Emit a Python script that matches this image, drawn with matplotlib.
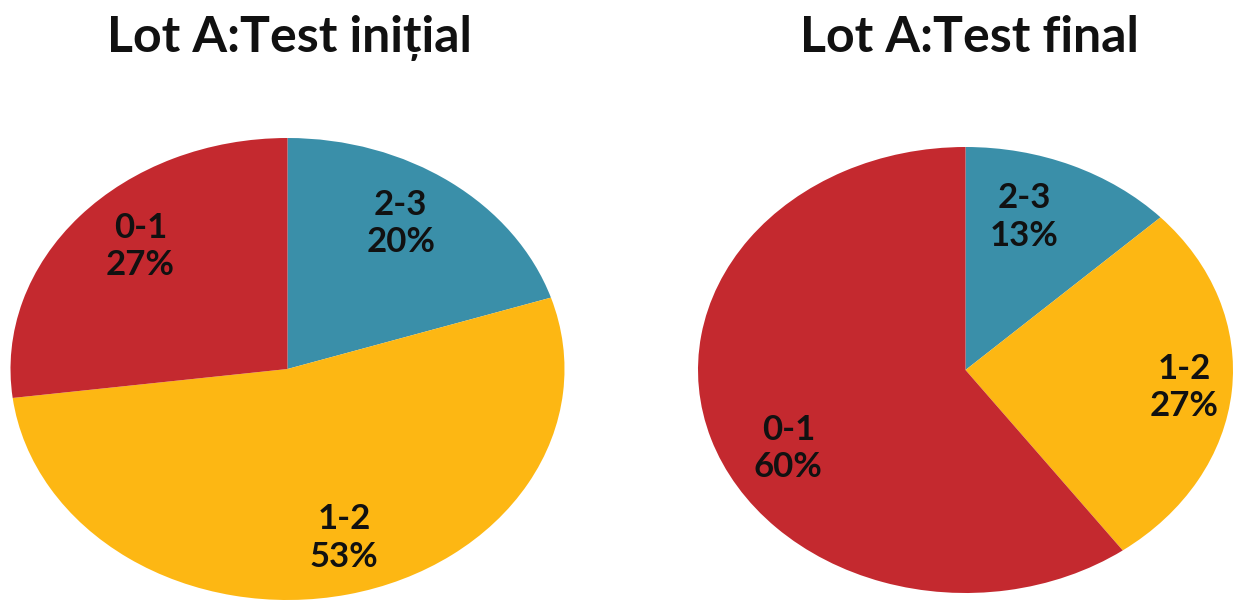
import numpy as np
import matplotlib
matplotlib.use("Agg")
import matplotlib.pyplot as plt

plt.rcParams['font.family'] = ['Lato', 'DejaVu Sans']

# score bands, drawn clockwise from 12 o'clock
categories = ["2-3", "1-2", "0-1"]
initial_pct = [20, 53, 27]
final_pct = [13, 27, 60]
titles = ["Lot A:Test inițial", "Lot A:Test final"]

colors = ["#3a8fa9", "#fdb713", "#c4292f"]

W, H = 1241, 600
fig = plt.figure(figsize=(W / 100, H / 100), dpi=100)

# pie boxes in pixels (left, top, right, bottom); the pies are slightly oval
boxes = [(10.5, 138, 564.5, 600), (698, 147, 1233, 593)]
# per-wedge label radius and angle nudge (deg)
label_r = [[0.75, 0.76, 0.75], [0.72, 0.82, 0.75]]
label_dtheta = [[3, 3, -3.6], [5.7, 0, 10]]


def draw_pie(box, values, r_list, dt_list):
    x0, y0, x1, y1 = box
    ax = fig.add_axes([x0 / W, 1 - y1 / H, (x1 - x0) / W, (y1 - y0) / H])
    wedges, _ = ax.pie(values, colors=colors, startangle=90, counterclock=False,
                       wedgeprops=dict(linewidth=0))
    ax.set_aspect("auto")
    ax.set_xlim(-1, 1)
    ax.set_ylim(-1, 1)
    ax.axis("off")
    for w, cat, v, r, dt in zip(wedges, categories, values, r_list, dt_list):
        mid = np.deg2rad((w.theta1 + w.theta2) / 2 + dt)
        ax.text(r * np.cos(mid), r * np.sin(mid), f"{cat}\n{v}%",
                ha="center", va="center", fontsize=25, fontweight="bold",
                color="#111111", linespacing=1.2)
    return ax


draw_pie(boxes[0], initial_pct, label_r[0], label_dtheta[0])
draw_pie(boxes[1], final_pct, label_r[1], label_dtheta[1])

# titles above each pie
for cx, t in zip([289, 969], titles):
    fig.text(cx / W, 1 - 52 / H, t, ha="center", va="baseline",
             fontsize=36, fontweight="bold", color="#111111")

fig.savefig("out.png", dpi=100)
